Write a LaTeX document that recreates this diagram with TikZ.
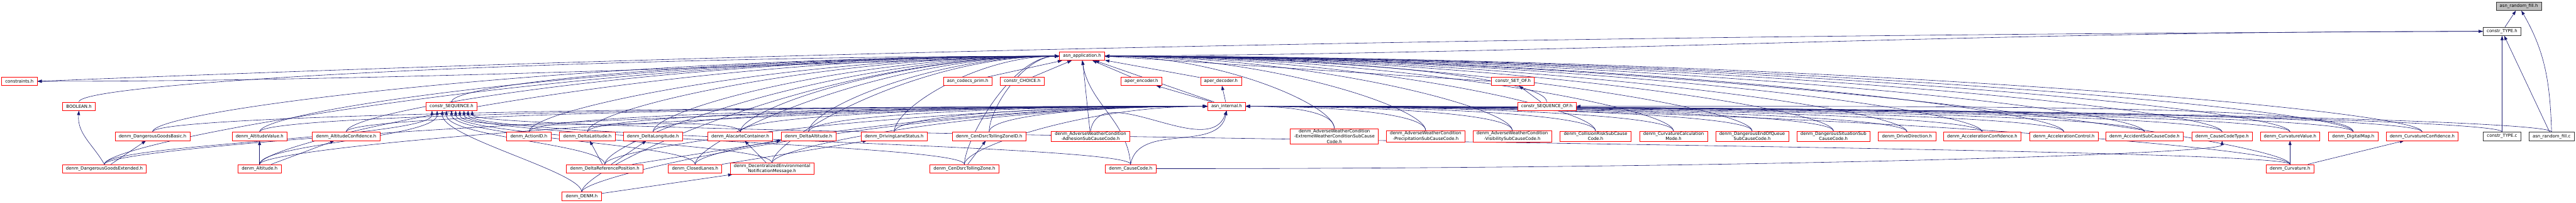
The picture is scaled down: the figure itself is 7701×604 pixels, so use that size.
\documentclass[tikz,border=0pt]{standalone}
\usepackage{fontspec}
\newfontfamily\graphfont{DejaVu Sans}
\usetikzlibrary{positioning, arrows.meta, calc, backgrounds}
\definecolor{edgeblue}{HTML}{191970}
\definecolor{truncred}{HTML}{FF0000}
\definecolor{rootgray}{HTML}{BFBFBF}
\tikzset{includegraph/.style={
    x=1pt, y=1pt,
    file/.style={rectangle, draw=truncred, line width=1.2pt, fill=white, align=center, minimum height=25pt, inner xsep=11pt, inner ysep=2.5pt, font=\graphfont\fontsize{13}{15.5}\selectfont},
    full/.style={file, draw=black!80},
    root/.style={full, fill=rootgray},
    incl/.style={draw=edgeblue, line width=1.1pt, -{Triangle[length=13pt,width=9pt]}},
}}

\begin{document}
\begin{tikzpicture}[includegraph]
    \useasboundingbox (0,0) rectangle (7701,604);
    % rows 0-4
    \node[root] (rfh) at (7530,585.5) {asn\_random\_fill.h};
    \node[full] (ctypeh) at (7480,510.5) {constr\_TYPE.h};
    \node[file] (app) at (3235,436.5) {asn\_application.h};
    \node[file] (cons) at (58,361.5) {constraints.h};
    \node[file] (codecs) at (2893,361.5) {asn\_codecs\_prim.h};
    \node[file] (choice) at (3056,361.5) {constr\_CHOICE.h};
    \node[file] (aenc) at (3412,361.5) {aper\_encoder.h};
    \node[file] (adec) at (3650,361.5) {aper\_decoder.h};
    \node[file] (setof) at (4523,361.5) {constr\_SET\_OF.h};
    \node[file] (boolean) at (236,287) {BOOLEAN.h};
    \node[file] (seq) at (1350,287) {constr\_SEQUENCE.h};
    \node[file] (internal) at (3667,287) {asn\_internal.h};
    \node[file] (seqof) at (4624,287) {constr\_SEQUENCE\_OF.h};
    % row 5
    \node[file] (dgb) at (456,197.5) {denm\_DangerousGoodsBasic.h};
    \node[file] (altv) at (776,197.5) {denm\_AltitudeValue.h};
    \node[file] (altc) at (1035,197.5) {denm\_AltitudeConfidence.h};
    \node[file] (actid) at (1581,197.5) {denm\_ActionID.h};
    \node[file] (dlat) at (1756,197.5) {denm\_DeltaLatitude.h};
    \node[file] (dlon) at (1952,197.5) {denm\_DeltaLongitude.h};
    \node[file] (alac) at (2213,197.5) {denm\_AlacarteContainer.h};
    \node[file] (dalt) at (2417,197.5) {denm\_DeltaAltitude.h};
    \node[file] (dls) at (2673,197.5) {denm\_DrivingLaneStatus.h};
    \node[file] (tzid) at (2957,197.5) {denm\_CenDsrcTollingZoneID.h};
    \node[file] (adh) at (3260,197.5) {denm\_AdverseWeatherCondition\\-AdhesionSubCauseCode.h};
    \node[file] (ext) at (3989,197.5) {denm\_AdverseWeatherCondition\\-ExtremeWeatherConditionSubCause\\Code.h};
    \node[file] (prec) at (4262,197.5) {denm\_AdverseWeatherCondition\\-PrecipitationSubCauseCode.h};
    \node[file] (vis) at (4521,197.5) {denm\_AdverseWeatherCondition\\-VisibilitySubCauseCode.h};
    \node[file] (coll) at (4770,197.5) {denm\_CollisionRiskSubCause\\Code.h};
    \node[file] (ccm) at (5003,197.5) {denm\_CurvatureCalculation\\Mode.h};
    \node[file] (deoq) at (5238,197.5) {denm\_DangerousEndOfQueue\\SubCauseCode.h};
    \node[file] (dsit) at (5481,197.5) {denm\_DangerousSituationSub\\CauseCode.h};
    \node[file] (drive) at (5701,197.5) {denm\_DriveDirection.h};
    \node[file] (accconf) at (5926,197.5) {denm\_AccelerationConfidence.h};
    \node[file] (accctl) at (6170,197.5) {denm\_AccelerationControl.h};
    \node[file] (accid) at (6411,197.5) {denm\_AccidentSubCauseCode.h};
    \node[file] (cct) at (6643,197.5) {denm\_CauseCodeType.h};
    \node[file] (curvv) at (6846,197.5) {denm\_CurvatureValue.h};
    \node[file] (dmap) at (7035,197.5) {denm\_DigitalMap.h};
    \node[file] (curvc) at (7241,197.5) {denm\_CurvatureConfidence.h};
    \node[full] (ctypec) at (7480,197.5) {constr\_TYPE.c};
    \node[full] (rfc) at (7628,197.5) {asn\_random\_fill.c};
    % rows 6-7
    \node[file] (dge) at (312,101) {denm\_DangerousGoodsExtended.h};
    \node[file] (alt) at (776,101) {denm\_Altitude.h};
    \node[file] (dref) at (1808,101) {denm\_DeltaReferencePosition.h};
    \node[file] (closed) at (2078,101) {denm\_ClosedLanes.h};
    \node[file] (decent) at (2308,101) {denm\_DecentralizedEnvironmental\\NotificationMessage.h};
    \node[file] (tz) at (2883,101) {denm\_CenDsrcTollingZone.h};
    \node[file] (cc) at (3380,101) {denm\_CauseCode.h};
    \node[file] (curv) at (6846,101) {denm\_Curvature.h};
    \node[file] (denm) at (1739,18.5) {denm\_DENM.h};

    \begin{pgfonlayer}{background}
    % the runtime headers
    \draw[incl] (ctypeh) -- (rfh);
    \draw[incl] (rfc.north) to[out=92,in=-60] (rfh);
    \draw[incl] (rfc) -- (ctypeh);
    \draw[incl] (ctypec) -- (ctypeh);
    \draw[incl] (app.east) .. controls +(1500,10) and +(-1500,0) .. (ctypeh.west);
    \draw[incl] (ctypeh.west) .. controls +(-2500,-10) and +(2500,100) .. (cons.east);
    \draw[incl] (app.west) .. controls +(-1000,-30) and +(1000,0) .. (cons.east);
    \draw[incl] (internal) -- (app);
    \draw[incl] (internal) -- (aenc);
    \draw[incl] (internal) -- (adec);
    \draw[incl] (aenc) -- (app);
    \draw[incl] (adec) -- (app);
    \draw[incl] (codecs) -- (app);
    \draw[incl] (choice) -- (app);
    \draw[incl] (setof.west) -- (app.east);
    \draw[incl] (seqof) -- (setof);
    \draw[incl] (seqof.north) .. controls +(0,70) and +(700,0) .. (app.east);
    \draw[incl] (seq.north) .. controls +(0,60) and +(-900,0) .. (app.west);
    \draw[incl] (boolean.north) .. controls +(0,60) and +(-1400,0) .. (app.west);
    % generated types, left of asn_internal.h
    \foreach \f in {dgb,dge,altv,altc,alt,actid,dlat,dlon,dref,denm,alac,dalt,closed,decent,dls,tzid,tz}{
        \draw[incl] let \p1=(\f.north), \p2=(app.west) in
            (\p1) .. controls +(0pt,70pt) and +({-0.5*(\x2-\x1)},0pt) .. (\p2);
        \draw[incl] let \p1=(\f.north), \p2=(internal.west) in
            (\p1) .. controls +(0pt,50pt) and +({-0.5*(\x2-\x1)},0pt) .. (\p2);
    }
    \draw[incl] (adh) -- (app);
    \draw[incl] (adh.north) to[out=80,in=-110] (internal.south);
    \draw[incl] (cc.north) to[out=95,in=-80] (app.south);
    \draw[incl] (cc.north) to[out=80,in=-100] (internal.south);
    % generated types, right of asn_internal.h
    \foreach \f in {ext,prec,vis,coll,ccm,deoq,dsit,drive,accconf,accctl,accid,cct,curvv,dmap,curvc,curv}{
        \draw[incl] let \p1=(\f.north), \p2=(app.east) in
            (\p1) .. controls +(0pt,70pt) and +({0.5*(\x1-\x2)},0pt) .. (\p2);
        \draw[incl] let \p1=(\f.north), \p2=(internal.east) in
            (\p1) .. controls +(0pt,50pt) and +({0.5*(\x1-\x2)},0pt) .. (\p2);
    }
    \foreach \f in {ctypec,rfc}{
        \draw[incl] let \p1=(\f.north), \p2=(internal.east) in
            (\p1) .. controls +(0pt,40pt) and +({0.5*(\x1-\x2)},0pt) .. (\p2);
    }
    % SEQUENCE types, arrowheads spread along the bottom of constr_SEQUENCE.h
    \foreach \f/\t in {dge/0.12,alt/0.22,dref/0.4,denm/0.32,closed/0.5,decent/0.58,alac/0.66,tz/0.74,cc/0.82,curv/0.9}{
        \coordinate (seqin) at ($(seq.south west)!\t!(seq.south east)$);
        \draw[incl] (\f.north) .. controls +(0,60) and +(0,-80) .. (seqin);
    }
    \draw[incl] (dmap.north) .. controls +(0,80) and +(1200,0) .. (seqof.east);
    % members
    \draw[incl] (dge.north) to[out=120,in=-95] (boolean.south);
    \draw[incl] (dge) -- (dgb);
    \draw[incl] (alt) -- (altv);
    \draw[incl] (alt) -- (altc);
    \draw[incl] (dref) -- (dlat);
    \draw[incl] (dref) -- (dlon);
    \draw[incl] (dref) -- (dalt);
    \draw[incl] (closed) -- (dls);
    \draw[incl] (decent) -- (alac);
    \draw[incl] (denm) -- (decent);
    \draw[incl] (tz) -- (tzid);
    \draw[incl] (cc.east) .. controls +(1800,0) and +(0,-40) .. (cct.south);
    \draw[incl] (curv) -- (curvv);
    \draw[incl] (curv) -- (curvc);
    \end{pgfonlayer}
\end{tikzpicture}
\end{document}
